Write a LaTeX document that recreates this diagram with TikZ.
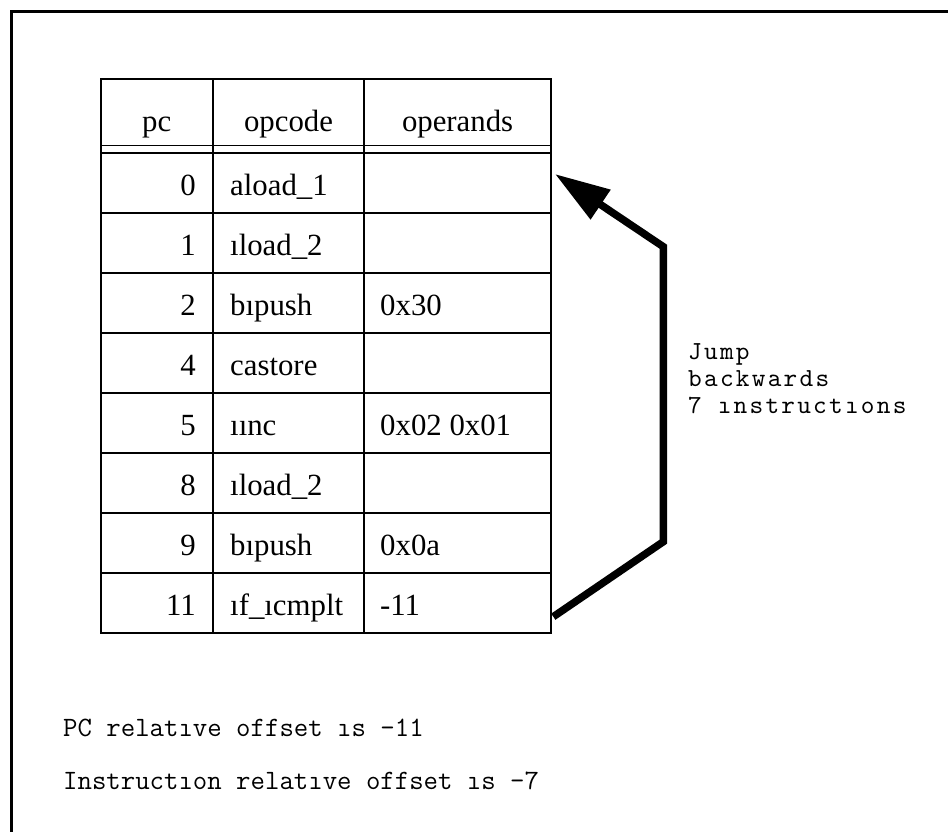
\documentclass[tikz,border=0pt]{standalone}
\usepackage{fontspec}
\setmainfont{Liberation Serif}
\newfontfamily\jumpfont[LetterSpace=8.7]{lmmono10-regular.otf}
\usetikzlibrary{arrows.meta}
\tikzset{
  tablegrid/.style={line width=1.8pt},
  frameline/.style={line width=3.5pt},
  cell/.style={font=\fontsize{30.8}{34}\selectfont, inner sep=0pt},
  monotext/.style={font=\ttfamily\fontsize{28}{30}\selectfont, inner sep=0pt, anchor=base west},
  jumplabel/.style={font=\jumpfont\fontsize{26}{27}\selectfont, inner sep=0pt, anchor=base west},
  jumparrow/.style={line width=7.5pt, line join=miter, -{Triangle[length=55pt,width=34pt]}}
}
\begin{document}
\begin{tikzpicture}[x=1pt,y=-1pt]
\useasboundingbox (0,0) rectangle (948,831);
% outer frame (only top and left edges visible)
\draw[frameline] (960,11.5) -- (11.5,11.5) -- (11.5,845);
% table grid
\draw[tablegrid] (100.7,79.3) rectangle (551,633);
\draw[tablegrid] (100.7,145.5) -- (551,145.5);
\draw[tablegrid] (100.7,152.7) -- (551,152.7);
\foreach \k in {1,...,7}{
  \draw[tablegrid] (100.7,{152.7+60.04*\k}) -- (551,{152.7+60.04*\k});
}
\draw[tablegrid] (212.7,79.3) -- (212.7,633);
\draw[tablegrid] (364.3,79.3) -- (364.3,633);
% header
\node[cell, anchor=base] (hpc) at (156.7,131) {pc};
\node[cell, anchor=base] (hop) at (288.5,131) {opcode};
\node[cell, anchor=base] (hopr) at (457.6,131) {operands};
% rows
\foreach \pc/\op/\opr [count=\i from 0] in {
  0/{aload\_1}/{},
  1/{ıload\_2}/{},
  2/{bıpush}/{0x30},
  4/{castore}/{},
  5/{ıınc}/{0x02 0x01},
  8/{ıload\_2}/{},
  9/{bıpush}/{0x0a},
  11/{ıf\_ıcmplt}/{-11}}{
  \pgfmathsetmacro\yb{152.7+60.04*\i+43}
  \node[cell, anchor=base east] (pc\i) at (196,\yb) {\pc};
  \node[cell, anchor=base west] (op\i) at (230,\yb) {\op};
  \node[cell, anchor=base west] (opr\i) at (380,\yb) {\opr};
}
% jump arrow
\coordinate (arrS) at (553.3,616.7);
\coordinate (arrA) at (663.3,541.7);
\coordinate (arrB) at (663.3,246.7);
\coordinate (arrT) at (555,174);
\draw[jumparrow] (arrS) -- (arrA) -- (arrB) -- (arrT);
% jump label
\node[jumplabel] (jump) at (688,359.3)
  {\begin{tabular}[t]{@{}l@{}}Jump\\backwards\\7 ınstructıons\end{tabular}};
% bottom notes
\node[monotext] (note1) at (63,736.7) {PC relatıve offset ıs -11};
\node[monotext] (note2) at (63,789) {Instructıon relatıve offset ıs -7};
\end{tikzpicture}
\end{document}
